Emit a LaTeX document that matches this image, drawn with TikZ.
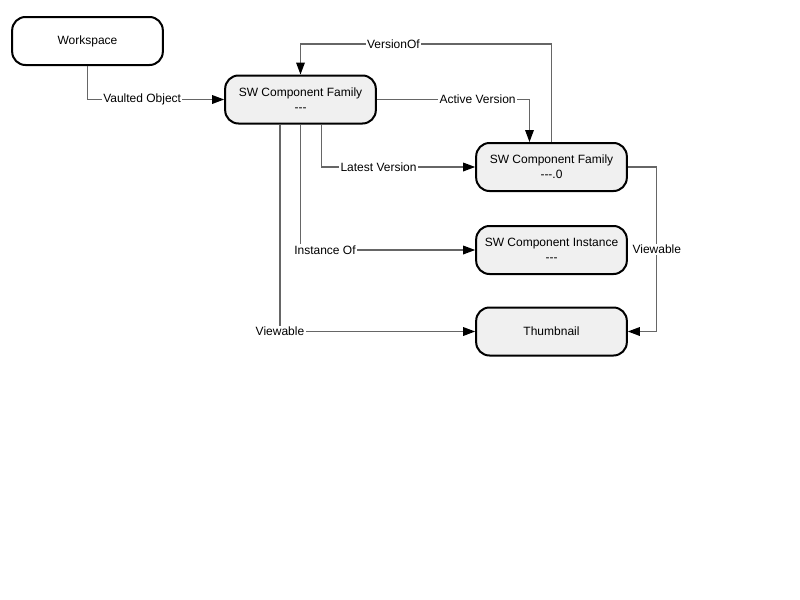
\documentclass[tikz,border=0pt]{standalone}
\usepackage{fontspec}
\setmainfont{Liberation Sans}
\usetikzlibrary{arrows.meta}
\definecolor{cF0F0F0}{RGB}{240,240,240}
\definecolor{c666666}{RGB}{102,102,102}
\begin{document}
\begin{tikzpicture}[y=0.75pt,x=0.75pt,yscale=-1,
    ent/.style={draw=black,line width=1.5pt,rounded corners=10pt,fill=cF0F0F0,
      minimum width=113pt,minimum height=36pt,align=center,inner sep=0pt,
      font=\fontsize{9pt}{11.5pt}\selectfont},
    rel/.style={draw=c666666,line width=0.9pt,
      -{Triangle[length=9pt,width=6.5pt,color=black]}},
    lbl/.style={fill=white,inner sep=1pt,font=\fontsize{9pt}{11pt}\selectfont}]
  \useasboundingbox (0,0) rectangle (800,600);
  \node[ent,fill=white] (ws) at (87.5,41.0) {Workspace};
  \node[ent] (fam) at (300.5,99.5) {SW Component Family\\{-}{-}{-}};
  \node[ent] (fam0) at (551.5,167.0) {SW Component Family\\{-}{-}{-}.0};
  \node[ent] (inst) at (551.5,250.0) {SW Component Instance\\{-}{-}{-}};
  \node[ent] (thumb) at (551.5,331.5) {Thumbnail};

  \draw[rel] (ws.south) |- node[lbl,pos=0.7]{Vaulted Object} (fam.west);
  \draw[rel] (fam0.north) -- ++(0,-98) -| node[lbl,pos=0.315]{VersionOf} (fam.north);
  \draw[rel] (fam.east) -| node[lbl,pos=0.33]{Active Version}
    ([xshift=-16.5pt]fam0.north);
  \draw[rel] ([xshift=16pt]fam.south) |- node[lbl,pos=0.685]{Latest Version} (fam0.west);
  \draw[rel] (fam.south) |- node[lbl,pos=0.57]{Instance Of} (inst.west);
  \draw[rel] ([xshift=-15.4pt]fam.south) |- node[lbl,pos=0.5]{Viewable} (thumb.west);
  \draw[rel] (fam0.east) -- ++(29,0) |- node[lbl,pos=0.25]{Viewable} (thumb.east);
\end{tikzpicture}
\end{document}
